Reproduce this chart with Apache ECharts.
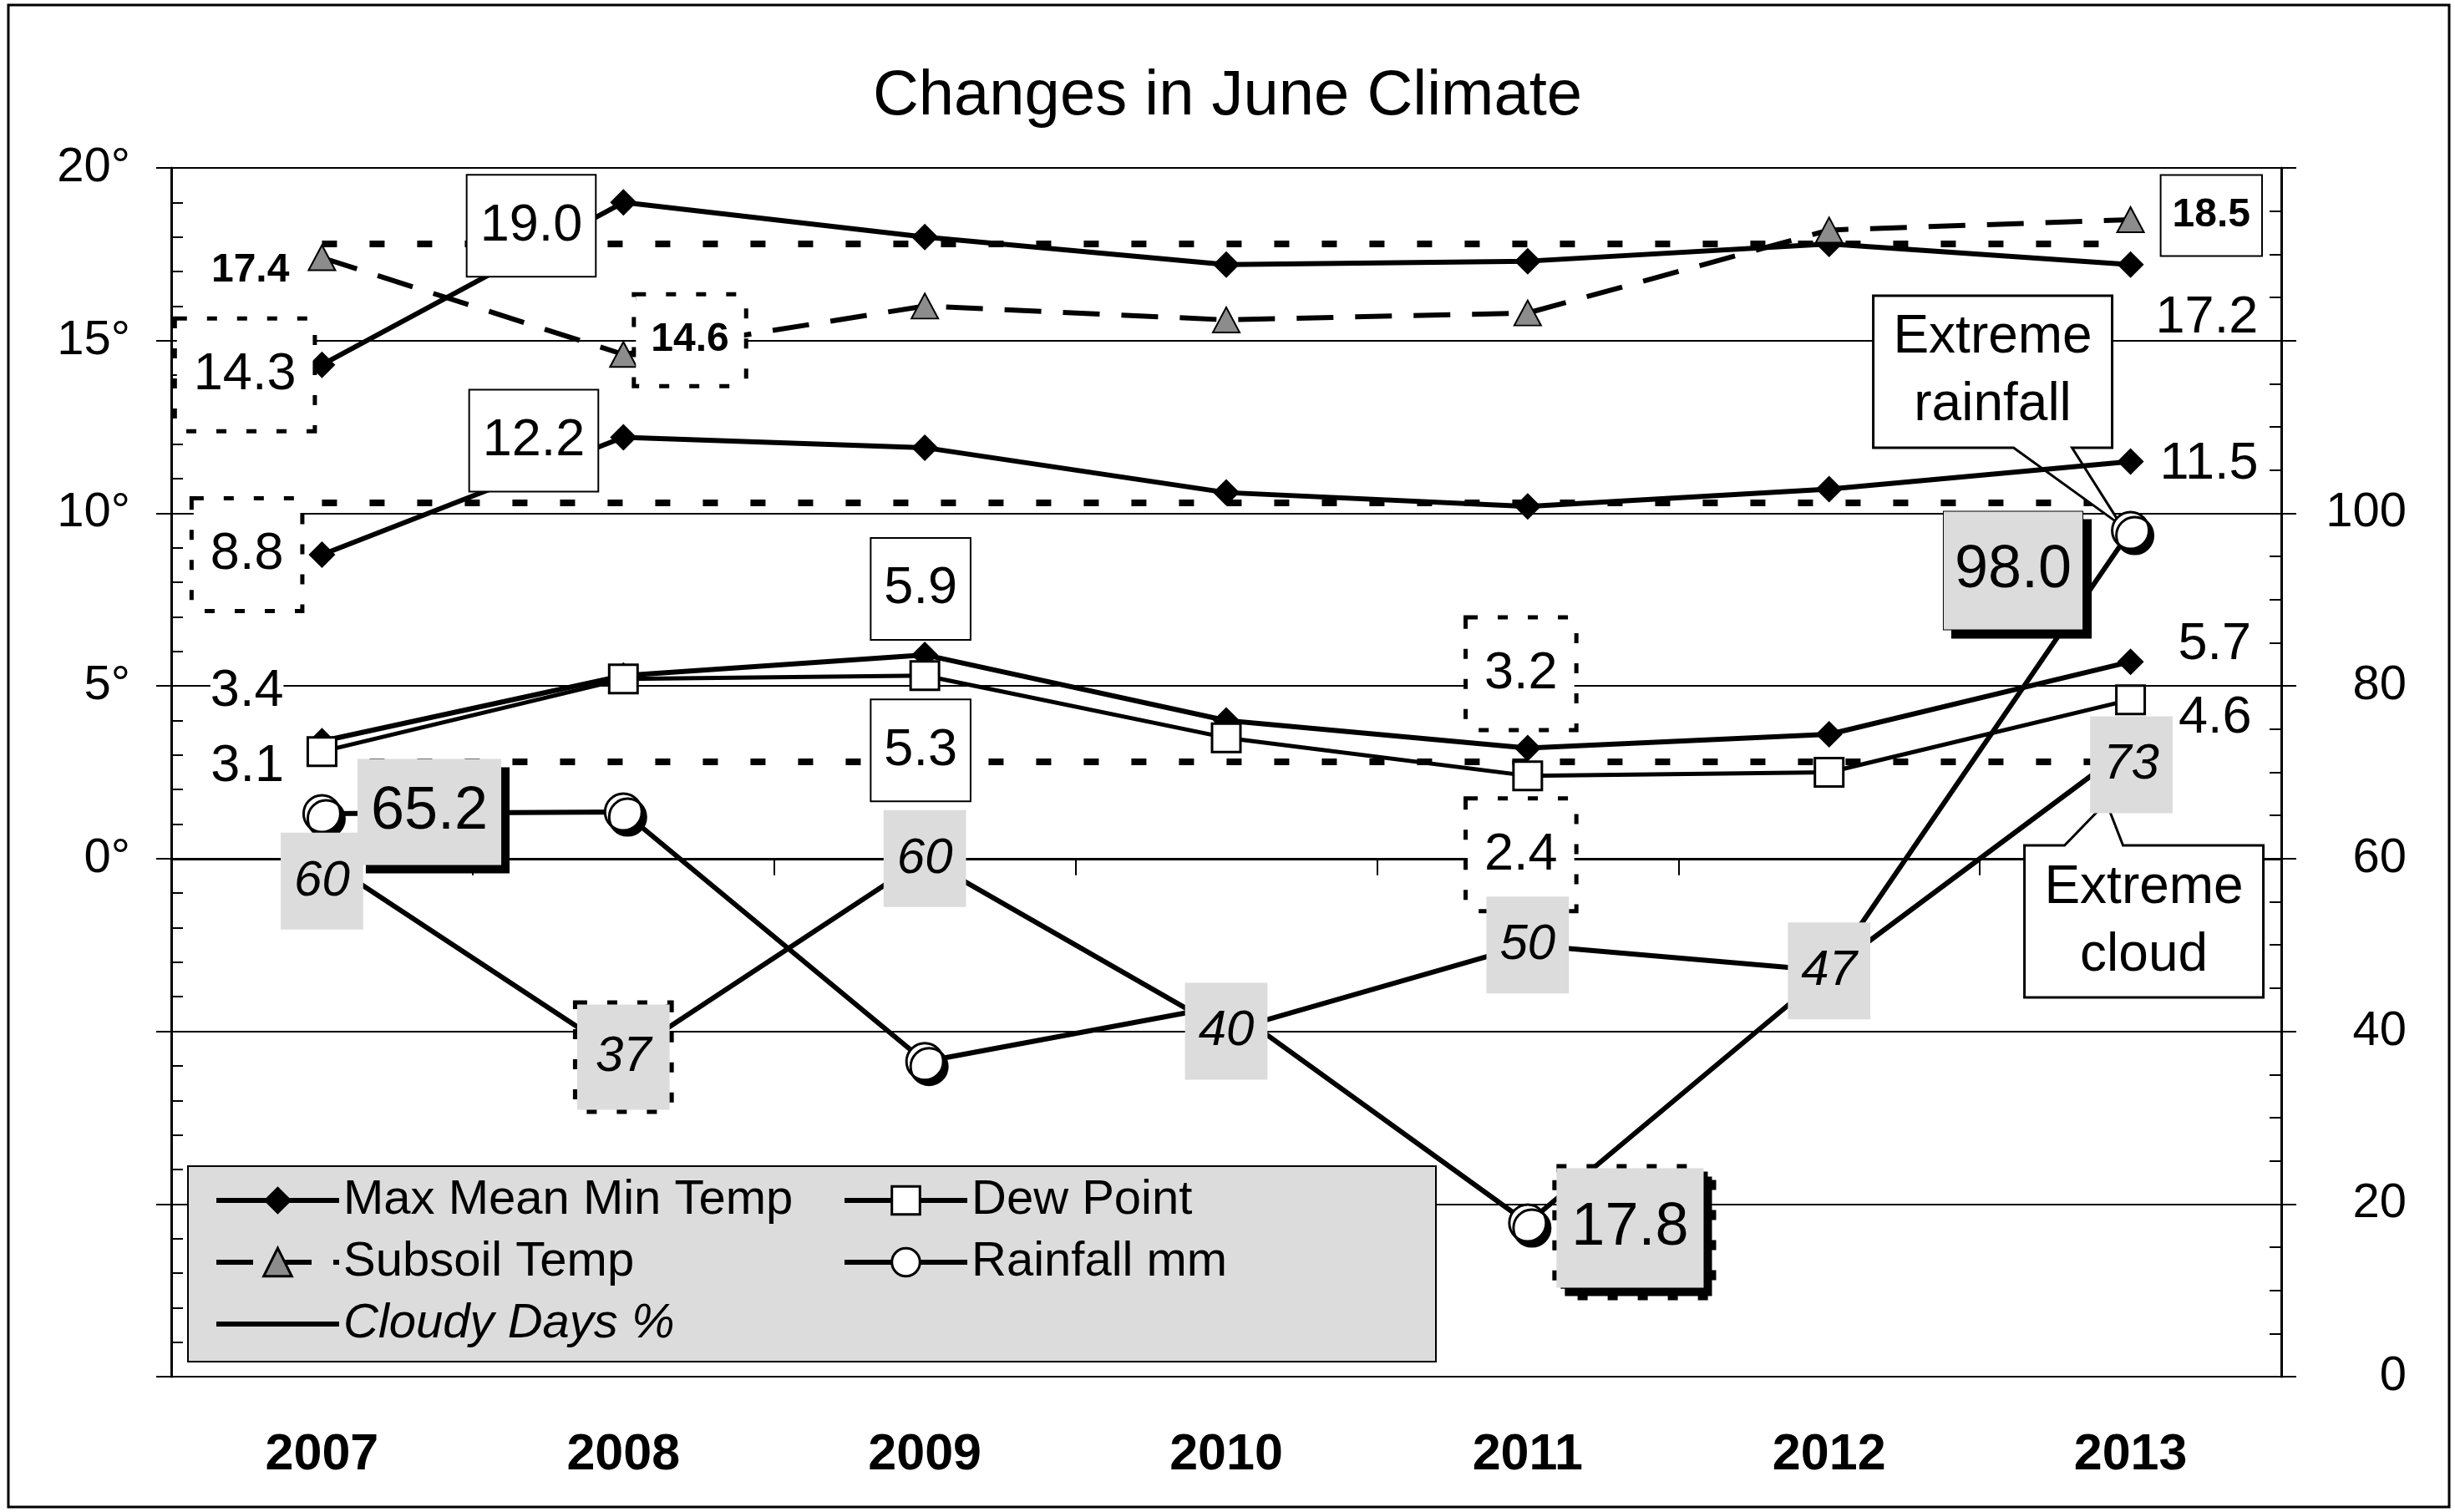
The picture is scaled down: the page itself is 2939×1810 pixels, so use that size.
<!DOCTYPE html>
<html><head><meta charset="utf-8">
<script src="https://cdn.jsdelivr.net/npm/echarts@6/dist/echarts.min.js"></script>
<style>html,body{margin:0;padding:0;background:#fff}#c{width:2939px;height:1810px}</style>
</head><body><div id="c"></div>
<script>
// ---------- data ----------
const years       = ['2007','2008','2009','2010','2011','2012','2013'];
const maxTemp     = [14.3, 19.0, 18.0, 17.2, 17.3, 17.8, 17.2];
const meanTemp    = [8.8, 12.2, 11.9, 10.6, 10.2, 10.7, 11.5];
const minTemp     = [3.4, 5.3, 5.9, 4.0, 3.2, 3.6, 5.7];
const dewPoint    = [3.1, 5.2, 5.3, 3.5, 2.4, 2.5, 4.6];
const subsoilTemp = [17.4, 14.6, 16.0, 15.6, 15.8, 18.2, 18.5];
const rainfall    = [65.2, 65.4, 36.5, 43, 17.8, 47, 98.0];
const cloudyDays  = [60, 37, 60, 40, 50, 47, 73];
const juneNormals = [17.8, 10.3, 2.8];
const tempAxis    = {min: -15, max: 20, step: 5};
const rightAxis   = {min: 0, max: 140, step: 20, lastLabel: 100};
const seriesNames = ['Max Mean Min Temp', 'Dew Point', 'Subsoil Temp', 'Rainfall mm', 'Cloudy Days %'];
const title       = 'Changes in June Climate';
const callouts    = ['Extreme\nrainfall', 'Extreme\ncloud'];

// ---------- styles ----------
const F = 'Liberation Sans';
const fmt1 = p => Number(p.value).toFixed(1);
const base = {show: true, color: '#000', fontFamily: F, fontSize: 63, lineHeight: 70, distance: 0, formatter: fmt1};
const solid = {backgroundColor: '#fff', borderColor: '#000', borderWidth: 2, padding: [25, 15]};
const dashed = {backgroundColor: '#fff', borderColor: '#000', borderWidth: 5, borderType: [12, 24], padding: [30, 20]};
const gray = '#dcdcdc';
const shadow = {shadowColor: '#000', shadowBlur: 0, shadowOffsetX: 10, shadowOffsetY: 10};

const maxLab  = [{position:'left', offset:[5,12], ...dashed}, {position:'left', offset:[-18,28], ...solid}, null, null, null, null, {position:'right', offset:[14,64]}];
const meanLab = [{position:'left', offset:[-10,0], ...dashed}, {position:'left', offset:[-15,4], ...solid}, null, null, null, null, {position:'right', offset:[19,3]}];
const minLab  = [{position:'left', offset:[-30,-60], backgroundColor:'#fff'}, null, {position:'top', offset:[-5,-3], ...solid}, null, {position:'top', offset:[-8,-8], ...dashed}, null, {position:'right', offset:[41,-21]}];
const dewLab  = [{position:'left', offset:[-27,18]}, null, {position:'bottom', offset:[-5,11], ...solid}, null, {position:'bottom', offset:[-8,11], ...dashed}, null, {position:'right', offset:[39,22]}];
const soilBase = {fontSize: 48, lineHeight: 53, fontWeight: 'bold'};
const soilLab = [{position:'left', offset:[-22,15], ...soilBase},
                 {position:'right', offset:[-2,-17], ...soilBase, ...dashed, padding:[26,18]}, null, null, null, null,
                 {position:'right', offset:[20,-5], ...soilBase, ...solid, padding:[21,13]}];
const rainBase = {fontSize: 72, lineHeight: 79, backgroundColor: gray, ...shadow};
const rainLab = [{position:'right', offset:[19,-2], ...rainBase, padding:[24,16]}, null, null, null,
                 {position:'right', offset:[11,6], ...rainBase, borderColor:'#000', borderWidth:5, borderType:[12,24], padding:[32,18]}, null,
                 {position:'left', offset:[-34,48], ...rainBase, borderColor:'#000', borderWidth:1, padding:[31,13]}];
const cloudBase = {position:'inside', fontSize: 60, lineHeight: 66, fontStyle: 'italic', backgroundColor: gray, padding: [25,16], formatter: p => String(p.value)};
const cloudLab = [{offset:[0,27]}, {borderColor:'#000', borderWidth:5, borderType:[12,24], padding:[30,22]}, {}, {}, {}, {}, {offset:[1,22]}].map(o => ({...cloudBase, ...o}));

function pts(values, labels) {
  return values.map((v, i) => labels[i] ? {value: v, label: {...base, ...labels[i]}} : {value: v});
}

const tempLine = {type: 'line', yAxisIndex: 0, z: 2, symbol: 'diamond', symbolSize: 32,
  lineStyle: {color: '#000', width: 6}, itemStyle: {color: '#000'}, label: {show: false}, emphasis: {disabled: true}};

const series = [
  {...tempLine, name: seriesNames[0], data: pts(maxTemp, maxLab),
   markLine: {silent: true, z: 1, symbol: ['none', 'none'], label: {show: false},
     lineStyle: {color: '#000', width: 8, type: [18, 39]},
     data: juneNormals.map(v => [{coord: [years[0], v]}, {coord: [years[years.length - 1], v]}])}},
  {...tempLine, name: seriesNames[0], data: pts(meanTemp, meanLab)},
  {...tempLine, name: seriesNames[0], data: pts(minTemp, minLab)},
  {type: 'line', name: seriesNames[1], yAxisIndex: 0, z: 2, symbol: 'rect', symbolSize: 34,
   lineStyle: {color: '#000', width: 5}, itemStyle: {color: '#fff', borderColor: '#000', borderWidth: 3},
   label: {show: false}, emphasis: {disabled: true}, data: pts(dewPoint, dewLab)},
  {type: 'line', name: seriesNames[2], yAxisIndex: 0, z: 2, symbol: 'triangle', symbolSize: [32, 30],
   lineStyle: {color: '#000', width: 6, type: [44, 26]}, itemStyle: {color: '#8c8c8c', borderColor: '#000', borderWidth: 2},
   label: {show: false}, emphasis: {disabled: true}, data: pts(subsoilTemp, soilLab)},
  {type: 'line', name: seriesNames[3], yAxisIndex: 1, z: 2, symbol: 'circle', symbolSize: 44,
   lineStyle: {color: '#000', width: 6},
   itemStyle: {color: '#fff', borderColor: '#000', borderWidth: 3, shadowColor: '#000', shadowBlur: 0, shadowOffsetX: 5, shadowOffsetY: 6},
   label: {show: false}, emphasis: {disabled: true}, data: pts(rainfall, rainLab)},
  {type: 'line', name: seriesNames[4], yAxisIndex: 1, z: 3, symbol: 'circle', symbolSize: 2,
   lineStyle: {color: '#000', width: 6}, itemStyle: {color: 'rgba(0,0,0,0)', borderWidth: 0},
   label: {show: false}, emphasis: {disabled: true}, data: pts(cloudyDays, cloudLab)}
];

const axisText = {color: '#000', fontFamily: F, fontSize: 58};
const legendCommon = {orient: 'vertical', padding: 0, itemWidth: 147, itemHeight: 42, itemGap: 16,
  lineStyle: {width: 6}, itemStyle: {borderWidth: 3},
  textStyle: {color: '#000', fontFamily: F, fontSize: 58}, selectedMode: false, top: 1408};

const option = {
  animation: false,
  backgroundColor: '#fff',
  title: {text: title, left: 'center', top: 78, padding: 0,
    textStyle: {color: '#000', fontFamily: F, fontSize: 76, fontWeight: 'normal'}},
  grid: {left: 205, right: 208, top: 201, bottom: 162, outerBoundsMode: 'none', containLabel: false},
  legend: [
    {...legendCommon, left: 256, data: [seriesNames[0], seriesNames[2], {name: seriesNames[4], textStyle: {fontStyle: 'italic'}}]},
    {...legendCommon, left: 1008, data: [seriesNames[1], seriesNames[3]]}
  ],
  xAxis: {type: 'category', data: years, boundaryGap: true,
    axisLine: {lineStyle: {color: '#000', width: 3}},
    axisTick: {show: true, length: 20, lineStyle: {color: '#000', width: 2}},
    axisLabel: {...axisText, fontSize: 61, fontWeight: 'bold', margin: 64},
    splitLine: {show: false}},
  yAxis: [
    {type: 'value', position: 'left', min: tempAxis.min, max: tempAxis.max, interval: tempAxis.step,
     axisLine: {show: true, lineStyle: {color: '#000', width: 3}},
     axisTick: {show: true, length: 18, lineStyle: {color: '#000', width: 2}},
     axisLabel: {...axisText, margin: 49, formatter: v => v >= 0 ? v + '°' : ''},
     splitLine: {show: true, lineStyle: {color: '#000', width: 2}}},
    {type: 'value', position: 'right', min: rightAxis.min, max: rightAxis.max, interval: rightAxis.step,
     axisLine: {show: true, lineStyle: {color: '#000', width: 3}},
     axisTick: {show: true, length: 18, lineStyle: {color: '#000', width: 2}},
     axisLabel: {...axisText, margin: 150, align: 'right', formatter: v => v <= rightAxis.lastLabel ? String(v) : ''},
     splitLine: {show: false}},
    {type: 'value', position: 'left', min: tempAxis.min, max: tempAxis.max, interval: tempAxis.step,
     axisLine: {show: false}, axisTick: {show: false, inside: true}, axisLabel: {show: false}, splitLine: {show: false},
     minorTick: {show: true, splitNumber: 5, length: 14, lineStyle: {color: '#000', width: 2}}},
    {type: 'value', position: 'right', min: rightAxis.min, max: rightAxis.max, interval: rightAxis.step,
     axisLine: {show: false}, axisTick: {show: false, inside: true}, axisLabel: {show: false}, splitLine: {show: false},
     minorTick: {show: true, splitNumber: 4, length: 14, lineStyle: {color: '#000', width: 2}}}
  ],
  series: series
};

const chart = echarts.init(document.getElementById('c'));
chart.setOption(option);

// callouts anchored to data points
const pr = chart.convertToPixel({seriesIndex: 5}, [years[6], rainfall[6]]);
const pc = chart.convertToPixel({seriesIndex: 6}, [years[6], cloudyDays[6]]);
function rainPoly(P) {
  const x0 = P[0]-308, x1 = P[0]-22, y0 = P[1]-281, y1 = P[1]-99;
  return [[x0,y0],[x1,y0],[x1,y1],[P[0]-70,y1],[P[0]-11,P[1]-6],[P[0]-140,y1],[x0,y1]];
}
function cloudPoly(P) {
  const x0 = P[0]-127, x1 = P[0]+159, y0 = P[1]+118.5, y1 = P[1]+300.5;
  return [[x0,y0],[P[0]-79,y0],[P[0]-29,P[1]+67],[P[0]-9,y0],[x1,y0],[x1,y1],[x0,y1]];
}
const calloutText = {fill: '#000', font: '64px "Liberation Sans"', textAlign: 'center', textVerticalAlign: 'middle', lineHeight: 81};
chart.setOption({
  graphic: {elements: [
    {type: 'rect', z: 1, silent: true, shape: {x: 225, y: 1396, width: 1494, height: 234},
     style: {fill: gray, stroke: '#000', lineWidth: 2}},
    {type: 'rect', z: 10, silent: true, shape: {x: 10, y: 6, width: 2922, height: 1798},
     style: {fill: 'none', stroke: '#000', lineWidth: 3}},
    {type: 'polygon', z: 1, silent: true, shape: {points: rainPoly(pr)}, style: {fill: '#fff', stroke: '#000', lineWidth: 3}},
    {type: 'text', z: 1, silent: true, x: pr[0]-165, y: pr[1]-190, style: {...calloutText, text: callouts[0]}},
    {type: 'polygon', z: 1, silent: true, shape: {points: cloudPoly(pc)}, style: {fill: '#fff', stroke: '#000', lineWidth: 3}},
    {type: 'text', z: 1, silent: true, x: pc[0]+16, y: pc[1]+210, style: {...calloutText, text: callouts[1]}}
  ]}
});
</script>
</body></html>
